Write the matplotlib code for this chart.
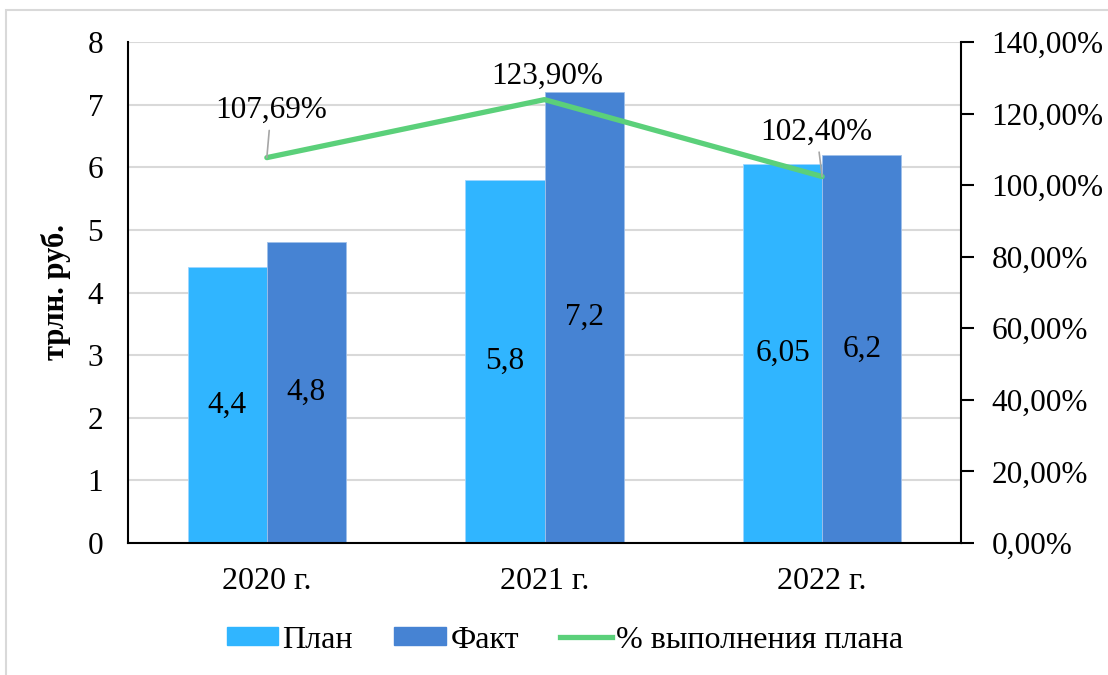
import numpy as np
import matplotlib.pyplot as plt
from matplotlib.patches import Rectangle
from matplotlib.lines import Line2D
from matplotlib.patches import Patch

plt.rcParams['font.family'] = ['Liberation Serif', 'DejaVu Serif']

years = ['2020 г.', '2021 г.', '2022 г.']
plan = [4.4, 5.8, 6.05]
fact = [4.8, 7.2, 6.2]
pct = [107.69, 123.90, 102.40]
plan_labels = ['4,4', '5,8', '6,05']
fact_labels = ['4,8', '7,2', '6,2']
pct_labels = ['107,69%', '123,90%', '102,40%']

c_plan = '#30B5FF'
c_fact = '#4683D3'
c_line = '#5BD07A'
fs = 22.5

fig = plt.figure(figsize=(11.08, 6.75), dpi=100)
# outer frame of the chart area
fig.patches.append(Rectangle((6 / 1108, -0.1), 1.2, 1 - 10 / 675 + 0.1,
                             transform=fig.transFigure, fill=False,
                             edgecolor='#d9d9d9', linewidth=1.5))

ax = fig.add_axes([128 / 1108, 1 - 543 / 675, (961 - 128) / 1108, (543 - 42) / 675])
ax2 = ax.twinx()

x = np.arange(len(years))
w = 0.285
ax.bar(x - w / 2, plan, w, color=c_plan, edgecolor='#9fd6ff', linewidth=0.6, zorder=2)
ax.bar(x + w / 2, fact, w, color=c_fact, edgecolor='#9fc0ea', linewidth=0.6, zorder=2)

for i in range(len(years)):
    ax.text(x[i] - w / 2, plan[i] / 2, plan_labels[i], ha='center', va='center', fontsize=fs)
    ax.text(x[i] + w / 2, fact[i] / 2, fact_labels[i], ha='center', va='center', fontsize=fs)

ax.set_xlim(-0.5, 2.5)
ax.set_ylim(0, 8)
ax.set_yticks(range(0, 9))
ax.set_xticks(x)
ax.set_xticklabels(years, fontsize=fs + 0.5)
ax.tick_params(axis='y', length=0, labelsize=fs, pad=18)
ax.tick_params(axis='x', length=0, pad=17)
ax.grid(axis='y', color='#d9d9d9', linewidth=1.5, zorder=0)
ax.set_axisbelow(True)
ax.set_ylabel('трлн. руб.', fontsize=22, fontweight='bold', labelpad=12)
for s in ['top', 'right']:
    ax.spines[s].set_visible(False)
for s in ['left', 'bottom']:
    ax.spines[s].set_linewidth(1.5)

ax2.plot(x, pct, color=c_line, linewidth=3.8, solid_capstyle='round', zorder=3)
ax2.set_ylim(0, 140)
ax2.set_yticks(range(0, 141, 20))
ax2.set_yticklabels([f'{v},00%' for v in range(0, 141, 20)], fontsize=fs)
ax2.tick_params(axis='y', direction='out', length=9, width=1.5, pad=13)
for s in ['top', 'left', 'bottom']:
    ax2.spines[s].set_visible(False)
ax2.spines['right'].set_linewidth(1.5)

offsets = [(3, 34), (2, 17), (-4, 32)]
arrows = [True, False, True]
for i in range(len(years)):
    ap = dict(arrowstyle='-', color='#a6a6a6', lw=1.2, shrinkA=2, shrinkB=0) if arrows[i] else None
    ax2.annotate(pct_labels[i], (x[i], pct[i]), xytext=offsets[i], textcoords='offset points',
                 ha='center', va='center', fontsize=fs, arrowprops=ap, zorder=4)

handles = [Patch(color=c_plan, label='План'),
           Patch(color=c_fact, label='Факт'),
           Line2D([0], [0], color=c_line, linewidth=3.8, label='% выполнения плана')]
fig.legend(handles=handles, loc='center', bbox_to_anchor=(565 / 1108, 1 - 640 / 675), ncol=3,
           frameon=False, fontsize=fs + 0.5, handlelength=1.6, handleheight=0.5,
           handletextpad=0.15, columnspacing=1.3)

fig.savefig('out.png', dpi=100)
